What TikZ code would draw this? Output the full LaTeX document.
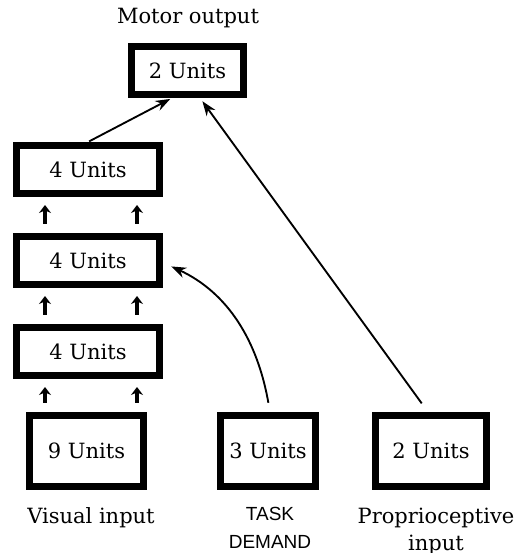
\documentclass[tikz,border=0pt]{standalone}
\usepackage{fontspec}
\setmainfont{DejaVu Serif}
\newfontfamily\labelsans{Liberation Sans}
\usetikzlibrary{arrows.meta,positioning}

\begin{document}
\begin{tikzpicture}[
  x=0.75pt, y=-0.75pt,
  node distance=27pt and 52.5pt,
  unit/.style={draw, line width=5.25pt, inner sep=0pt, align=center, font=\fontsize{15.75}{20.25}\selectfont},
  hid/.style={unit, minimum width=107.25pt, minimum height=36pt},
  inp/.style={unit, minimum height=53.25pt},
  lbl/.style={align=center, inner sep=0pt, font=\fontsize{15.75}{20.25}\selectfont},
  arr/.style={-{Stealth[length=11pt,width=8pt]}, line width=1.4pt},
  uparr/.style={-{Stealth[length=6pt,width=9pt]}, line width=2.6pt},
]
  \useasboundingbox (0,0) rectangle (519,553);

  % input layer
  \node[inp, minimum width=85.5pt] (vis) at (86.5,451) {9 Units};
  \node[inp, minimum width=71.25pt, right=of vis] (task) {3 Units};
  \node[inp, minimum width=83.25pt, right=39.75pt of task] (prop) {2 Units};

  % hidden layers and output
  \node[hid, above=24.75pt of vis, xshift=1.1pt] (h1) {4 Units};
  \node[hid, above=of h1] (h2) {4 Units};
  \node[hid, above=of h2] (h3) {4 Units};
  \node[unit, minimum width=84pt, minimum height=36pt] (mot) at (187.5,70.5) {2 Units};

  % labels (base = last line)
  \node[lbl, anchor=base] (motlbl) at (188,23) {Motor output};
  \node[lbl, anchor=base] (vislbl) at (91,523) {Visual input};
  \node[lbl, anchor=base, font=\labelsans\fontsize{14.25}{21}\selectfont] (tasklbl) at (270,548) {TASK\\DEMAND};
  \node[lbl, anchor=base] (proplbl) at (436,550) {Proprioceptive\\input};

  % feed-forward arrows
  \coordinate (lcol) at (45,0);
  \coordinate (rcol) at (137,0);
  \foreach \a/\b in {vis/h1, h1/h2, h2/h3} {
    \draw[uparr, shorten <=7pt, shorten >=6pt] (\a.north -| lcol) -- (\b.south -| lcol);
    \draw[uparr, shorten <=7pt, shorten >=6pt] (\a.north -| rcol) -- (\b.south -| rcol);
  }

  \draw[arr, shorten <=1pt, shorten >=1.5pt] (h3.north) -- ([xshift=-11.6pt]mot.south);
  \draw[arr, shorten <=8pt, shorten >=3pt] ([xshift=-2.25pt]prop.north) -- ([xshift=9.4pt]mot.south);
  \draw[arr, shorten <=7pt, shorten >=7pt] ([xshift=1.5pt]task.north) to[out=100, in=-25] ([yshift=-1.5pt]h2.east);
\end{tikzpicture}
\end{document}
